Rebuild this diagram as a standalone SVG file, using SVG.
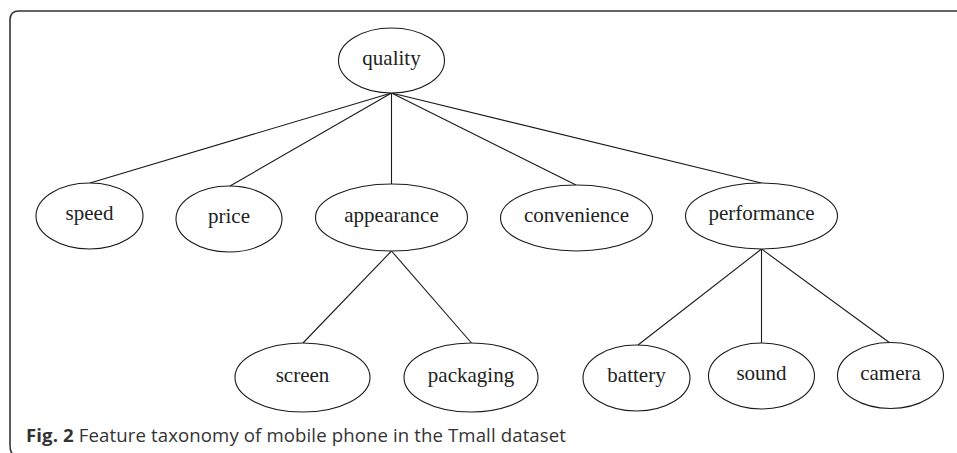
<svg xmlns="http://www.w3.org/2000/svg" width="957" height="453" viewBox="0 0 957 453">
  <style>
    .node ellipse { fill: #fff; stroke: #1a1a1a; stroke-width: 1.1; }
    .node text { font-family: "Liberation Serif", "Times New Roman", serif; font-size: 21px; fill: #222; text-anchor: middle; }
    .edges line { stroke: #1a1a1a; stroke-width: 1.1; }
    .frame { fill: none; stroke: #333; stroke-width: 1.6; }
    .caption { font-family: "Open Sans", "Liberation Sans", sans-serif; font-size: 18.6px; fill: #333; }
  </style>

  <!-- figure frame: rounded box whose right and bottom run off the page -->
  <path class="frame" d="M 958 11 L 19 11 Q 10 11 10 20 L 10 445 Q 10 453 14 455"/>

  <g class="edges">
    <line x1="391.5" y1="93" x2="90" y2="183"/>
    <line x1="391.5" y1="93" x2="230" y2="186"/>
    <line x1="391.5" y1="93" x2="391.5" y2="184"/>
    <line x1="391.5" y1="93" x2="576" y2="185"/>
    <line x1="391.5" y1="93" x2="761.5" y2="183"/>
    <line x1="391.5" y1="251" x2="303" y2="343"/>
    <line x1="391.5" y1="251" x2="471.5" y2="343"/>
    <line x1="761.5" y1="249" x2="638" y2="345"/>
    <line x1="761.5" y1="249" x2="761.5" y2="343"/>
    <line x1="761.5" y1="249" x2="890" y2="343"/>
  </g>

  <g id="quality" class="node"><ellipse cx="391.5" cy="60.5" rx="53" ry="32.5"/><text x="391.5" y="65">quality</text></g>
  <g id="speed" class="node"><ellipse cx="89.5" cy="216" rx="53.5" ry="33"/><text x="89.5" y="220">speed</text></g>
  <g id="price" class="node"><ellipse cx="229" cy="219" rx="53" ry="33"/><text x="229" y="223">price</text></g>
  <g id="appearance" class="node"><ellipse cx="391.5" cy="217.5" rx="76" ry="33.5"/><text x="391.5" y="221.5">appearance</text></g>
  <g id="convenience" class="node"><ellipse cx="576.5" cy="218" rx="76" ry="33"/><text x="576.5" y="222">convenience</text></g>
  <g id="performance" class="node"><ellipse cx="761.5" cy="216" rx="76" ry="33"/><text x="761.5" y="220">performance</text></g>
  <g id="screen" class="node"><ellipse cx="302.5" cy="377.5" rx="67.5" ry="34.5"/><text x="302.5" y="382">screen</text></g>
  <g id="packaging" class="node"><ellipse cx="471" cy="377.5" rx="67" ry="34.5"/><text x="471" y="382">packaging</text></g>
  <g id="battery" class="node"><ellipse cx="636.5" cy="378" rx="53.5" ry="33"/><text x="636.5" y="382">battery</text></g>
  <g id="sound" class="node"><ellipse cx="761.5" cy="376" rx="53" ry="33"/><text x="761.5" y="380">sound</text></g>
  <g id="camera" class="node"><ellipse cx="890.5" cy="375.5" rx="53" ry="33"/><text x="890.5" y="379.5">camera</text></g>

  <text class="caption" x="26" y="442" textLength="540" lengthAdjust="spacing"><tspan font-weight="bold">Fig. 2</tspan> Feature taxonomy of mobile phone in the Tmall dataset</text>
</svg>
